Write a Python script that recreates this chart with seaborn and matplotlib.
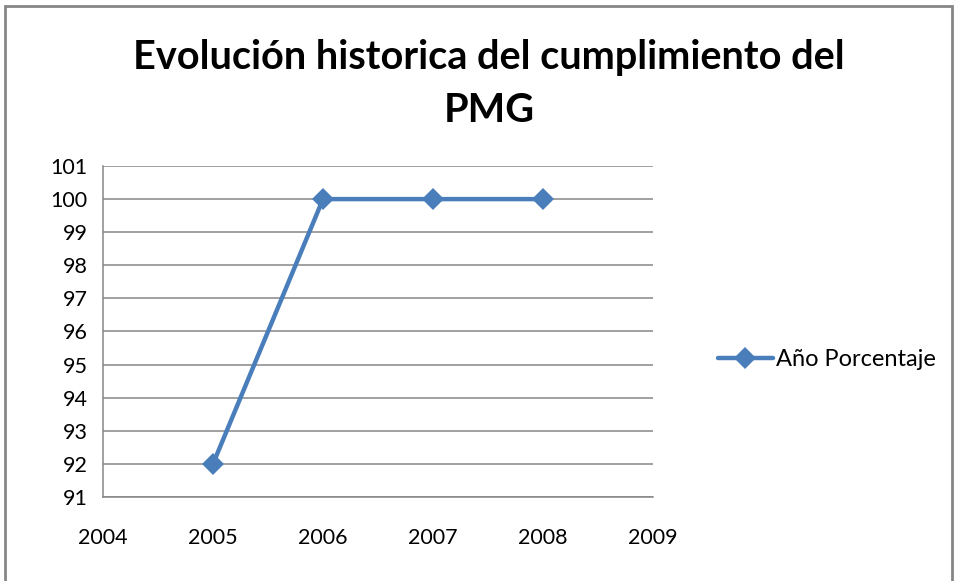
import matplotlib
matplotlib.use("Agg")
import matplotlib.pyplot as plt
import seaborn as sns
import pandas as pd
from matplotlib.patches import Rectangle

years = [2005, 2006, 2007, 2008]
porcentaje = [92, 100, 100, 100]
series_name = "Año Porcentaje"
title_line1 = "Evolución historica del cumplimiento del"
title_line2 = "PMG"
x_ticks = [2004, 2005, 2006, 2007, 2008, 2009]
y_ticks = list(range(91, 102))

df = pd.DataFrame({"Año": years, "Porcentaje": porcentaje, "Serie": series_name})

sns.set_theme(style="white")
plt.rcParams["font.family"] = ["Lato", "DejaVu Sans"]
plt.rcParams["text.color"] = "black"

fig = plt.figure(figsize=(9.57, 5.81), dpi=100)
W, H = 957, 581
ax = fig.add_axes([103 / W, (H - 497) / H, (653 - 103) / W, (497 - 166) / H])

blue = "#4A7EBB"
sns.lineplot(data=df, x="Año", y="Porcentaje", hue="Serie", palette=[blue],
             marker="D", markersize=11, linewidth=3.2, markeredgewidth=0,
             ax=ax, legend=True)

ax.set_xlim(2004, 2009)
ax.set_ylim(91, 101)
ax.set_xticks(x_ticks)
ax.set_yticks(y_ticks)
ax.set_xticklabels([str(t) for t in x_ticks], fontsize=15.5)
ax.set_yticklabels([str(t) for t in y_ticks], fontsize=15.5)
ax.set_xlabel("")
ax.set_ylabel("")
ax.yaxis.grid(True, color="#868686", linewidth=1.1)
ax.set_axisbelow(True)
for s in ["top", "right"]:
    ax.spines[s].set_visible(False)
for s in ["left", "bottom"]:
    ax.spines[s].set_color("#868686")
    ax.spines[s].set_linewidth(1.1)
ax.tick_params(axis="both", which="major", direction="out", length=7,
               width=1.1, color="#868686", labelcolor="black")
ax.tick_params(axis="x", pad=15)
ax.tick_params(axis="y", pad=4)

leg = ax.legend(loc="center left", bbox_to_anchor=(1.08, 0.414), frameon=False,
                fontsize=17, handlelength=2.3, handletextpad=0.15)
for t in leg.get_texts():
    t.set_color("black")

fig.text(489 / W, 1 - 57 / H, title_line1, ha="center", va="center",
         fontsize=28.5, fontweight="bold", color="black")
fig.text(489 / W, 1 - 110 / H, title_line2, ha="center", va="center",
         fontsize=28.5, fontweight="bold", color="black")

fig.patches.append(Rectangle((5 / W, -10 / H), 947 / W, 585 / H, transform=fig.transFigure,
                             fill=False, edgecolor="#868686", linewidth=2))

fig.savefig("out.png", dpi=100)
